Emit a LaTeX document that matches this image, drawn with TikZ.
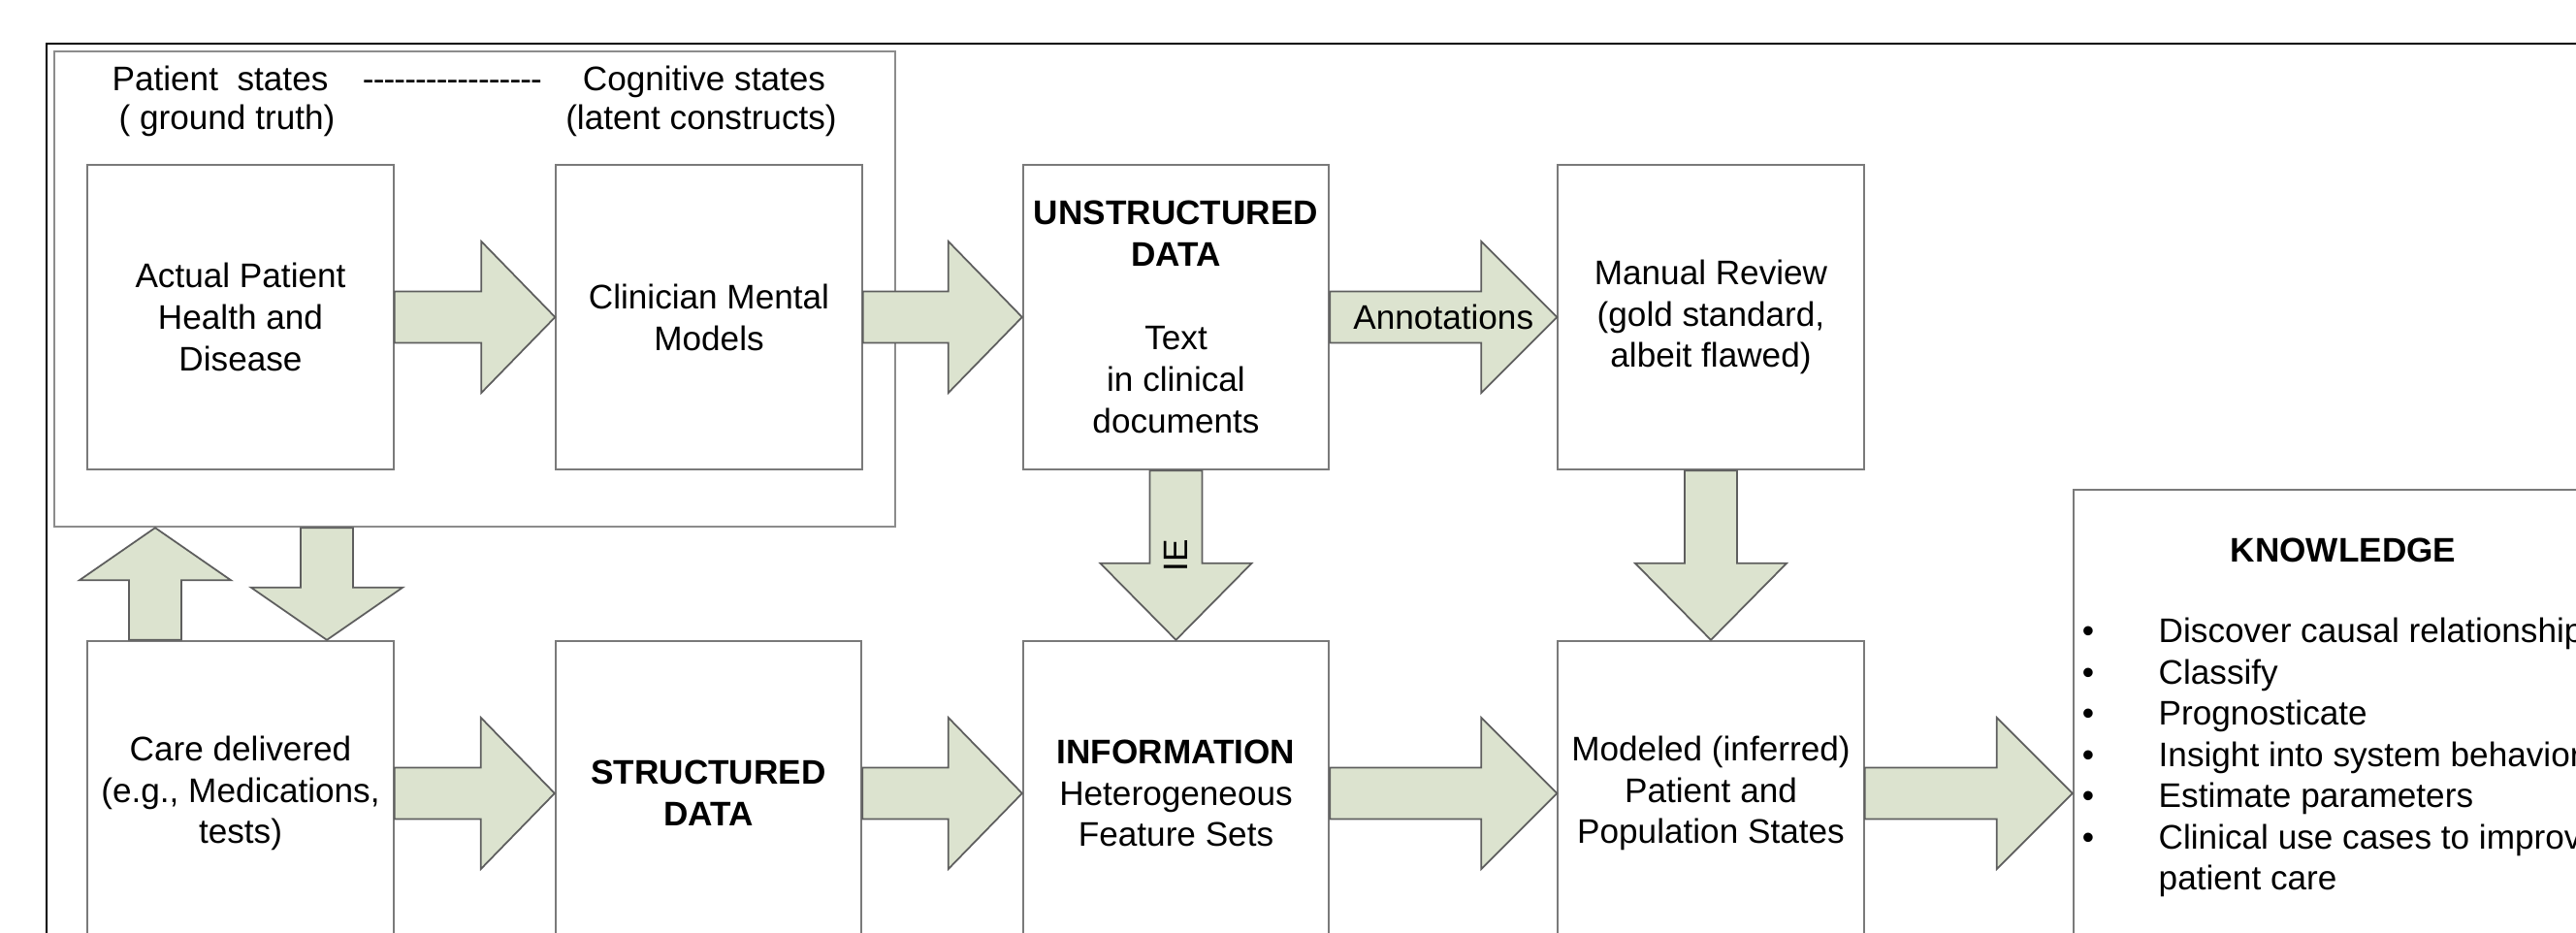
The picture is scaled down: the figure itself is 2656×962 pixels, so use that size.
\documentclass[tikz,border=0pt]{standalone}
\usepackage{fontspec}
\setmainfont{Liberation Sans}
\usetikzlibrary{calc}

\definecolor{arrowfill}{HTML}{DCE3CF}
\definecolor{arrowline}{HTML}{5E5E5E}
\definecolor{boxline}{HTML}{7A7A7A}
\definecolor{groupline}{HTML}{8C8C8C}

\tikzset{
  stagebox/.style={draw=boxline, line width=0.6pt, fill=white,
    minimum width=3.15cm, minimum height=3.14cm, inner sep=1pt,
    align=center, font=\fontsize{10}{12.2}\selectfont},
  fatarrow/.style={fill=arrowfill, draw=arrowline, line width=0.5pt, line join=miter},
  lbl/.style={font=\fontsize{10}{11.5}\selectfont, inner sep=0pt},
}

% block arrows: #1 tail point, #2 tip point, #3 head length
\newcommand\rightfat[3]{%
  \draw[fatarrow] ($(#1)+(0,-26.5)$) -- ($(#2)+(-#3,-26.5)$) -- ($(#2)+(-#3,-78)$)
    -- (#2) -- ($(#2)+(-#3,78)$) -- ($(#2)+(-#3,26.5)$) -- ($(#1)+(0,26.5)$) -- cycle;}
\newcommand\downfat[3]{%
  \draw[fatarrow] ($(#1)+(-27,0)$) -- ($(#2)+(-27,-#3)$) -- ($(#2)+(-78,-#3)$)
    -- (#2) -- ($(#2)+(78,-#3)$) -- ($(#2)+(27,-#3)$) -- ($(#1)+(27,0)$) -- cycle;}
\newcommand\upfat[3]{%
  \draw[fatarrow] ($(#1)+(-27,0)$) -- ($(#2)+(-27,#3)$) -- ($(#2)+(-78,#3)$)
    -- (#2) -- ($(#2)+(78,#3)$) -- ($(#2)+(27,#3)$) -- ($(#1)+(27,0)$) -- cycle;}

\newcommand\dashrule{\foreach \k in {1,...,17}{-\kern-0.25pt}}

\begin{document}
\begin{tikzpicture}[x=0.01cm, y=-0.01cm]
\useasboundingbox (0,0) rectangle (2656,962);
\clip (0,0) rectangle (2656,962);

% outer frame
\draw[line width=0.7pt] (48,45) rectangle (2760,1080);

% latent-state group
\node[draw=groupline, line width=0.6pt, minimum width=8.67cm, minimum height=4.9cm] (grp) at (489.5,298) {};
\node[lbl, anchor=base] (ps) at (227,93.5) {Patient\ \ states};
\node[lbl, anchor=base] (gt) at (234,134) {( ground truth)};
\node[lbl, anchor=base] (dl) at (466,93.5) {\dashrule};
\node[lbl, anchor=base] (cs) at (726,93.5) {Cognitive states};
\node[lbl, anchor=base] (lc) at (723,134) {(latent constructs)};

% stages
\node[stagebox] (A) at (248,327) {Actual Patient\\Health and\\Disease};
\node[stagebox] (B) at (731,327) {Clinician Mental\\Models};
\node[stagebox] (C) at (1212.5,327) {\textbf{UNSTRUCTURED}\\\textbf{DATA}\\[12.2pt]Text\\in clinical\\documents};
\node[stagebox] (D) at (1764,327) {Manual Review\\(gold standard,\\albeit flawed)};
\node[stagebox] (E) at (248,818) {Care delivered\\(e.g., Medications,\\tests)};
\node[stagebox] (F) at (730.5,818) {\textbf{STRUCTURED}\\\textbf{DATA}};
\node[stagebox] (G) at (1212.5,818) {\textbf{INFORMATION}\\Heterogeneous\\Feature Sets};
\node[stagebox] (H) at (1764,818) {Modeled (inferred)\\Patient and\\Population States};
\node[stagebox, minimum width=5.6cm, minimum height=6.26cm] (K) at (2418,818) {};

% knowledge contents
\node[lbl, font=\fontsize{10}{12}\selectfont\bfseries, anchor=base] (kt) at (2416,580) {KNOWLEDGE};
\foreach \t [count=\i] in {Discover causal relationships, Classify, Prognosticate,
    Insight into system behavior, Estimate parameters, Clinical use cases to improve}{
  \node[lbl, anchor=base] (kb\i) at (2153,{663+42.5*(\i-1)}) {\textbullet};
  \node[lbl, anchor=base west] (kl\i) at (2225,{663+42.5*(\i-1)}) {\t};
}
\node[lbl, anchor=base west] (kl7) at (2225,{663+42.5*6}) {patient care};

% flows
\rightfat{A.east}{B.west}{76}
\rightfat{B.east}{C.west}{76}
\rightfat{C.east}{D.west}{78}
\rightfat{E.east}{F.west}{76}
\rightfat{F.east}{G.west}{76}
\rightfat{G.east}{H.west}{78}
\rightfat{H.east}{K.west}{78}
\downfat{C.south}{G.north}{79}
\downfat{D.south}{H.north}{79}

\coordinate (upTail) at ($(E.north)+(-88,0)$);
\coordinate (upTip) at (upTail |- grp.south);
\upfat{upTail}{upTip}{54}
\coordinate (dnTip) at ($(E.north)+(89,0)$);
\coordinate (dnTail) at (dnTip |- grp.south);
\downfat{dnTail}{dnTip}{54}

\node[lbl] (ann) at ($(C.east)!0.5!(D.west)$) {Annotations};
\node[lbl, rotate=90] (ie) at ($(C.south)!0.5!(G.north)$) {IE};
\end{tikzpicture}
\end{document}
